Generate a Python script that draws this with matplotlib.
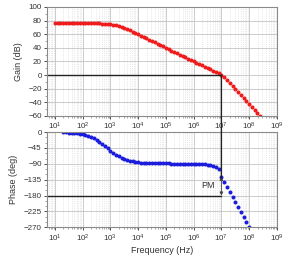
import matplotlib
matplotlib.use("Agg")
import matplotlib.pyplot as plt
import numpy as np
from matplotlib.patches import ConnectionPatch
from matplotlib.ticker import LogLocator, MultipleLocator, NullFormatter

plt.rcParams['font.family'] = ['Liberation Sans', 'DejaVu Sans']
plt.rcParams['mathtext.default'] = 'regular'

# Gain data: log10(frequency) and dB
gain_logf = [1.0, 1.1, 1.2, 1.3, 1.4, 1.5, 1.6, 1.7, 1.8, 1.9,
             2.0, 2.1, 2.2, 2.3, 2.4, 2.5, 2.6, 2.7, 2.8, 2.9,
             3.0, 3.1, 3.2, 3.3, 3.4, 3.5, 3.6, 3.7, 3.8, 3.9,
             4.0, 4.1, 4.2, 4.3, 4.4, 4.5, 4.6, 4.7, 4.8, 4.9,
             5.0, 5.1, 5.2, 5.3, 5.4, 5.5, 5.6, 5.7, 5.8, 5.9,
             6.0, 6.1, 6.2, 6.3, 6.4, 6.5, 6.6, 6.7, 6.8, 6.9,
             7.0, 7.1, 7.2, 7.3, 7.4, 7.5, 7.6, 7.7, 7.8, 7.9,
             8.0, 8.1, 8.2, 8.3, 8.4, 8.5]
gain_db = [76.0, 76.0, 76.0, 76.0, 76.0, 76.0, 76.0, 76.0, 76.0, 76.0,
           76.0, 76.0, 75.9, 75.9, 75.9, 75.8, 75.7, 75.6, 75.4, 75.0,
           74.6, 73.9, 73.0, 71.9, 70.6, 69.1, 67.4, 65.7, 63.8, 61.9,
           60.0, 58.0, 56.0, 54.0, 52.0, 50.0, 48.0, 46.0, 44.0, 42.0,
           40.0, 38.0, 36.0, 34.0, 32.0, 30.1, 28.1, 26.1, 24.1, 22.1,
           20.1, 18.2, 16.2, 14.3, 12.4, 10.5, 8.6, 6.7, 4.7, 2.5,
           0.0, -3.0, -7.0, -11.0, -15.5, -20.0, -24.5, -29.0, -33.5, -38.0,
           -42.5, -47.0, -51.5, -56.0, -60.5, -65.0]

# Phase data: log10(frequency) and degrees
phase_logf = [1.3, 1.4, 1.5, 1.6, 1.7, 1.8, 1.9,
              2.0, 2.1, 2.2, 2.3, 2.4, 2.5, 2.6, 2.7, 2.8, 2.9,
              3.0, 3.1, 3.2, 3.3, 3.4, 3.5, 3.6, 3.7, 3.8, 3.9,
              4.0, 4.1, 4.2, 4.3, 4.4, 4.5, 4.6, 4.7, 4.8, 4.9,
              5.0, 5.1, 5.2, 5.3, 5.4, 5.5, 5.6, 5.7, 5.8, 5.9,
              6.0, 6.1, 6.2, 6.3, 6.4, 6.5, 6.6, 6.7, 6.8, 6.9,
              7.0, 7.1, 7.2, 7.3, 7.4, 7.5, 7.6, 7.7, 7.8, 7.9, 8.0]
phase_deg = [-0.5, -0.8, -1.2, -1.7, -2.4, -3.3, -4.5,
             -6.0, -8.0, -10.5, -13.5, -17.2, -21.6, -26.8, -32.8, -39.3, -46.0,
             -52.6, -58.8, -64.3, -69.1, -73.2, -76.6, -79.4, -81.6, -83.3, -84.7,
             -85.8, -86.6, -87.2, -87.6, -87.9, -88.1, -88.3, -88.5, -88.6, -88.8,
             -88.9, -89.0, -89.1, -89.2, -89.3, -89.4, -89.5, -89.6, -89.8, -90.0,
             -90.2, -90.5, -90.8, -91.2, -91.8, -92.6, -93.8, -95.8, -99.0, -105.0,
             -127.0, -141.0, -155.0, -169.0, -183.0, -198.0, -212.0, -226.0, -240.0, -254.0, -269.0]

xticks = [10.0 ** k for k in range(1, 10)]
gain_ticks = [100, 80, 60, 40, 20, 0, -20, -40, -60]
phase_ticks = [0, -45, -90, -135, -180, -225, -270]
f_cross = 1e7
pm_top = -127.0

fig = plt.figure(figsize=(2.84, 2.56), dpi=100)
ax1 = fig.add_axes([0.165, 0.547, 0.81, 0.426])
ax2 = fig.add_axes([0.165, 0.112, 0.81, 0.372])

xlim = (10 ** 0.71, 1e9)
tick_fs = 5.8
spine_col = '#8a8a8a'

for ax in (ax1, ax2):
    ax.set_xscale('log')
    ax.set_xlim(*xlim)
    ax.set_xticks(xticks)
    ax.xaxis.set_minor_locator(LogLocator(base=10, subs=np.arange(2, 10), numticks=20))
    ax.xaxis.set_minor_formatter(NullFormatter())
    ax.grid(True, which='major', color='#c4c4c4', linewidth=0.6, linestyle='-')
    ax.grid(True, which='minor', axis='x', color='#d4d4d4', linewidth=0.5, linestyle=':')
    ax.tick_params(which='major', labelsize=tick_fs, length=2.5, width=0.6,
                   colors='#333333', pad=1.2)
    ax.tick_params(which='minor', length=1.5, width=0.4, colors='#666666')
    for s in ax.spines.values():
        s.set_color(spine_col)
        s.set_linewidth(0.8)
    ax.set_axisbelow(True)

gain_f = [10.0 ** v for v in gain_logf]
phase_f = [10.0 ** v for v in phase_logf]

ax1.plot(gain_f, gain_db, linestyle='none', marker='o', markersize=2.9,
         color='#ee1c1c', markeredgewidth=0)
ax1.set_ylim(-60, 100)
ax1.set_yticks(gain_ticks)
ax1.yaxis.set_minor_locator(MultipleLocator(10))
ax1.set_ylabel('Gain (dB)', fontsize=6.5, labelpad=4, color='#333333')

ax2.plot(phase_f, phase_deg, linestyle='none', marker='o', markersize=2.9,
         color='#1c1cdd', markeredgewidth=0)
ax2.set_ylim(-270, 0)
ax2.set_yticks(phase_ticks)
ax2.yaxis.set_minor_locator(MultipleLocator(15))
ax2.set_ylabel('Phase (deg)', fontsize=6.5, labelpad=4, color='#333333')
ax2.set_xlabel('Frequency (Hz)', fontsize=6.5, labelpad=1.5, color='#333333')

# crossover lines
ax1.plot([xlim[0], f_cross], [0, 0], color='#222222', linewidth=1.0)
ax2.plot([xlim[0], f_cross], [-180, -180], color='#222222', linewidth=1.0)
con = ConnectionPatch(xyA=(f_cross, 0), coordsA=ax1.transData,
                      xyB=(f_cross, pm_top - 4), coordsB=ax2.transData,
                      color='#222222', linewidth=1.0)
fig.add_artist(con)

ax2.annotate('', xy=(f_cross, pm_top), xytext=(f_cross, -180),
             arrowprops=dict(arrowstyle='<|-|>', color='#444444', lw=0.6,
                             mutation_scale=5, shrinkA=0, shrinkB=0))
ax2.text(10 ** 6.5, -150, 'PM', fontsize=6.5, ha='center', va='center', color='#333333')

fig.savefig('out.png', dpi=100)
